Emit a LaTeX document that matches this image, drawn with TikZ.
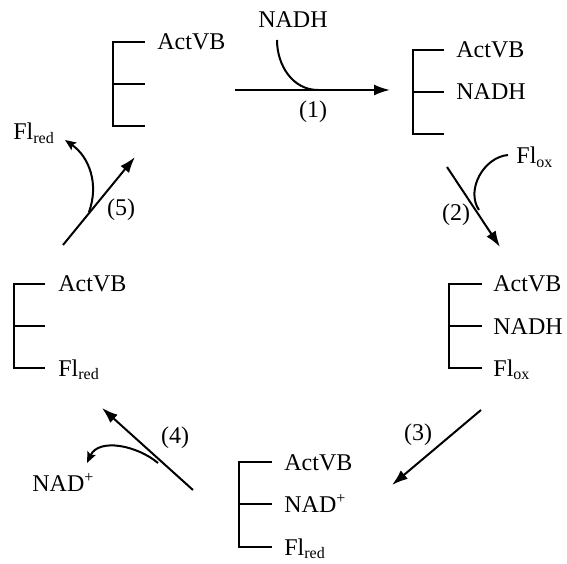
\documentclass[tikz,border=0pt]{standalone}
\usepackage{fontspec}
\setmainfont{Liberation Serif}
\usetikzlibrary{positioning}
\usetikzlibrary{arrows.meta}
\tikzset{>=latex}
\tikzstyle{species}=[anchor=base west,inner sep=0pt]
\tikzstyle{step label}=[inner sep=0pt]
\tikzstyle{bracket}=[line width=1pt]
\tikzstyle{connect arrow}=[-{Latex[length=8pt,width=5.5pt]},line width=1pt]
\tikzstyle{side arrow}=[-{Stealth[length=5.5pt,width=4.5pt,inset=1pt]},line width=1pt]

\begin{document}
\begin{tikzpicture}[x=0.5pt,y=0.5pt,font=\fontsize{12}{14}\selectfont]
\useasboundingbox (0,0) rectangle (567,563);

% Complex 1 (top left)
\draw[bracket] (145,521) -| (113,437) -- (145,437);
\draw[bracket] (113,479) -- (145,479);
\node[species] (A1) at (157,513) {ActVB};

% Complex 2 (top right)
\draw[bracket] (444,513) -| (413,429) -- (444,429);
\draw[bracket] (413,471) -- (444,471);
\node[species] (A2) at (456,505) {ActVB};
\node[species] (N2) at (456,463) {NADH};

% Complex 3 (right)
\draw[bracket] (482,279) -| (449,195) -- (482,195);
\draw[bracket] (449,237) -- (482,237);
\node[species] (A3) at (493,271) {ActVB};
\node[species] (N3) at (493,229) {NADH};
\node[species] (F3) at (493,187) {Fl\textsubscript{ox}};

% Complex 4 (bottom)
\draw[bracket] (272,101) -| (239,16) -- (272,16);
\draw[bracket] (239,59) -- (272,59);
\node[species] (A4) at (284,93) {ActVB};
\node[species] (N4) at (284,51) {NAD\textsuperscript{+}};
\node[species] (F4) at (284,8) {Fl\textsubscript{red}};

% Complex 5 (left)
\draw[bracket] (45,279) -| (14,195) -- (45,195);
\draw[bracket] (14,237) -- (45,237);
\node[species] (A5) at (58,271) {ActVB};
\node[species] (F5) at (58,187) {Fl\textsubscript{red}};

% substrates and products
\node[step label] (NADHin) at (293,543) {NADH};
\node[species] (FLin) at (516,399) {Fl\textsubscript{ox}};
\node[species] (NADout) at (32,72) {NAD\textsuperscript{+}};
\node[species] (FLout) at (13,423) {Fl\textsubscript{red}};

% step numbers
\node[step label] (s1) at (313,451) {(1)};
\node[step label] (s2) at (456,348) {(2)};
\node[step label] (s3) at (418,128) {(3)};
\node[step label] (s4) at (175,125) {(4)};
\node[step label] (s5) at (121,353) {(5)};

% arrow ends
\coordinate (a1s) at (235,473); \coordinate (a1e) at (390,473);
\coordinate (a2s) at (447,396); \coordinate (a2e) at (500,316);
\coordinate (a3s) at (481,153); \coordinate (a3e) at (392,78);
\coordinate (a4s) at (193,73);  \coordinate (a4e) at (102,155);
\coordinate (a5s) at (63,318);  \coordinate (a5e) at (135,406);

% where the side arrows meet the main arrows
\coordinate (c1s) at (277,523); \coordinate (c1e) at (318,473);
\coordinate (c2s) at (508,408); \coordinate (c2e) at (479,353);
\coordinate (c4s) at (158,100); \coordinate (c4e) at (87,100);
\coordinate (c5s) at (89,351);  \coordinate (c5e) at (65,423);

\begin{scope}[connect arrow]
    \draw (a1s) -- (a1e);
    \draw (a2s) -- (a2e);
    \draw (a3s) -- (a3e);
    \draw (a4s) -- (a4e);
    \draw (a5s) -- (a5e);
\end{scope}

\draw[line width=1pt] (c1s) to[out=-90,in=180] (c1e);
\draw[line width=1pt] (c2s) to[out=185,in=124] (c2e);
\draw[side arrow] (c4s) to[out=140,in=65] (c4e);
\draw[side arrow] (c5s) to[out=70,in=-35] (c5e);

\end{tikzpicture}
\end{document}
